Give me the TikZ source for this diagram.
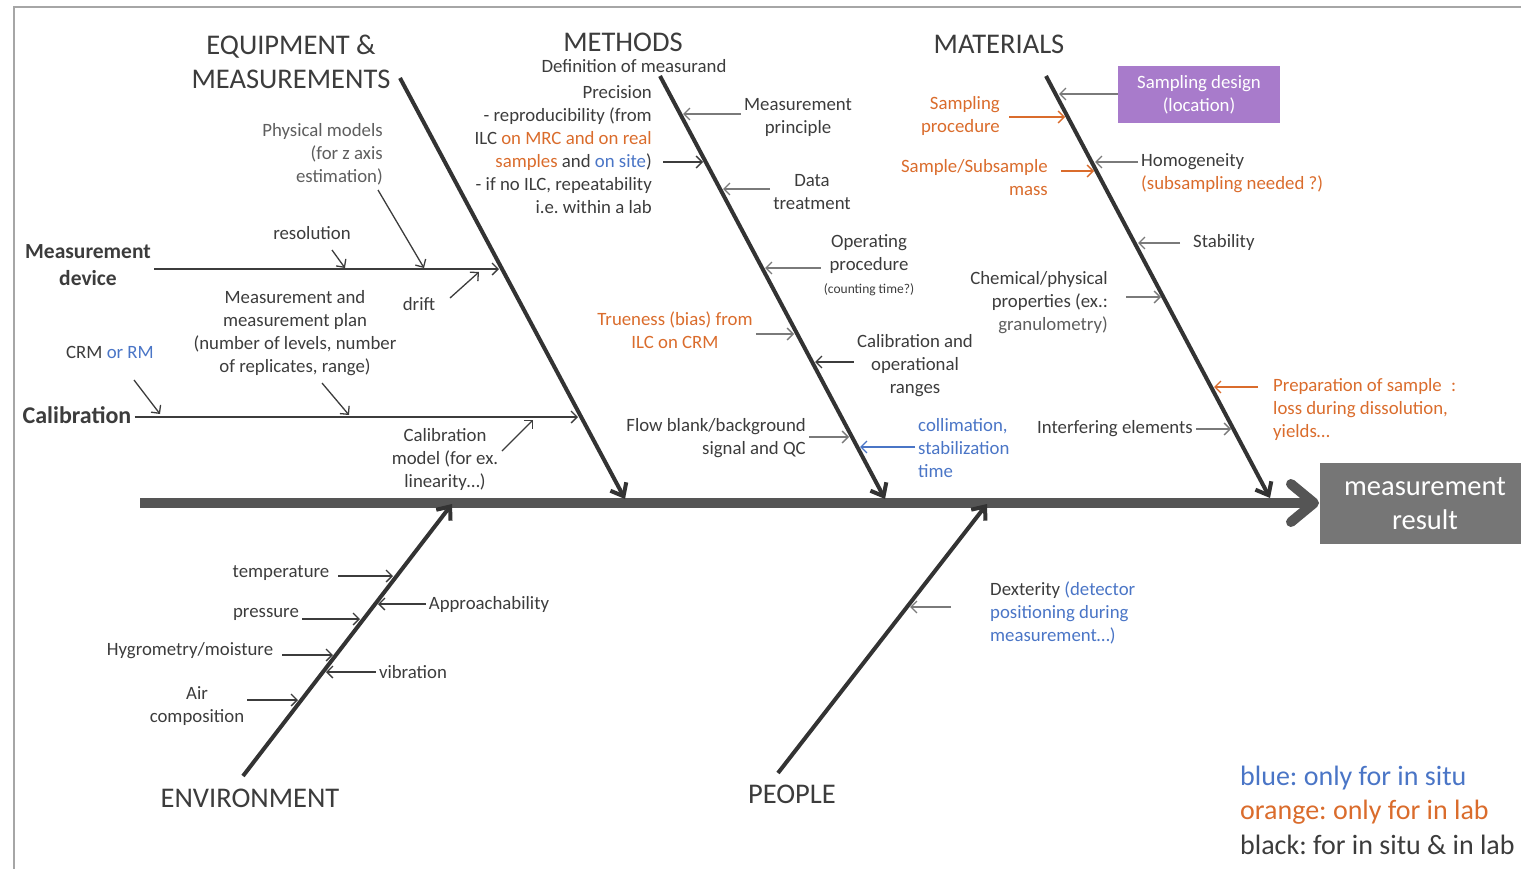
\documentclass[tikz,border=0pt]{standalone}
\usepackage{fontspec}
\setmainfont{Carlito}
\usetikzlibrary{arrows.meta}
\frenchspacing

\definecolor{ink}{HTML}{3C3C3C}
\definecolor{soft}{HTML}{5E5E5E}
\definecolor{bone}{HTML}{333333}
\definecolor{spinecol}{HTML}{555555}
\definecolor{thin}{HTML}{7A7A7A}
\definecolor{labor}{HTML}{DA6C2C}
\definecolor{situ}{HTML}{4A75C6}
\definecolor{plum}{HTML}{A87BCB}
\definecolor{resultcol}{HTML}{767676}
\definecolor{framecol}{HTML}{A6A6A6}

\newcommand{\fsz}[2]{\fontsize{#1}{#2}\selectfont}

\tikzset{
  lbl/.style={text=ink, inner sep=3pt, font=\fsz{18.8}{23}},
  headline/.style={text=ink, inner sep=0pt, font=\fsz{28.5}{34}},
  bonel/.style={draw=bone, line width=4pt, -{Straight Barb[length=11pt,width=18pt]}},
  twig/.style={draw=ink, line width=1.3pt, -{Straight Barb[length=6pt,width=12pt]}},
  twiggrey/.style={draw=thin, line width=1.3pt, -{Straight Barb[length=6pt,width=12pt]}},
  twigor/.style={draw=labor, line width=1.3pt, -{Straight Barb[length=6pt,width=12pt]}},
  twigbl/.style={draw=situ, line width=1.3pt, -{Straight Barb[length=6pt,width=12pt]}},
}

\begin{document}
\begin{tikzpicture}[x=1pt,y=-1pt]
\useasboundingbox (0,0) rectangle (1521,868);

% outer frame
\draw[framecol, line width=1.5pt] (14,875) -- (14,7) -- (1530,7);

% ---------- main spine ----------
\coordinate (spL) at (140,503);
\coordinate (spR) at (1314,503);
\coordinate (hdA) at (1291,484);
\coordinate (hdB) at (1291,522);
\draw[spinecol, line width=10pt] (spL) -- (1306,503);
\draw[spinecol, line width=10pt, line cap=round, line join=round] (hdA) -- (spR) -- (hdB);
\node[fill=resultcol, text=white, inner sep=0pt, minimum width=210pt, minimum height=81pt,
      align=center, font=\fsz{28.5}{34}] (res) at (1425,503.5) {measurement\\result};

% ---------- EQUIPMENT & MEASUREMENTS ----------
\node[headline, align=center] (tEq) at (291,62) {EQUIPMENT \&\\MEASUREMENTS};
\coordinate (eqTop) at (400,78);
\coordinate (eqTip) at (625,499);
\draw[bonel] (eqTop) -- (eqTip);

\node[lbl, font=\bfseries\fsz{21.5}{27}, align=center] (mdev) at (88,265) {Measurement\\device};
\coordinate (mdHit) at (499,269);
\draw[twig] (mdev.east |- mdHit) -- (mdHit);

\node[lbl] (reso) at (312,233) {resolution};
\coordinate (resoA) at (332,250);
\coordinate (resoB) at (345,268);
\draw[twig] (resoA) -- (resoB);

\node[lbl, text=soft, align=right, anchor=east] (phys) at (386,154) {Physical models\\(for z axis\\estimation)};
\coordinate (physA) at (378,190);
\coordinate (physB) at (424,268);
\draw[twig] (physA) -- (physB);

\node[lbl] (drift) at (419,304) {drift};
\coordinate (driftA) at (450,298);
\coordinate (driftB) at (479,272);
\draw[twig] (driftA) -- (driftB);

\node[lbl, font=\bfseries\fsz{24}{29}] (calib) at (77,415) {Calibration};
\coordinate (calHit) at (578,417);
\draw[twig] (calib.east |- calHit) -- (calHit);

\node[lbl] (crm) at (110,352) {CRM \textcolor{situ}{or RM}};
\coordinate (crmA) at (134,380);
\coordinate (crmB) at (160,414);
\draw[twig] (crmA) -- (crmB);

\node[lbl, align=center] (plan) at (295,333) {Measurement and\\measurement plan\\(number of levels, number\\of replicates, range)};
\coordinate (planA) at (322,383);
\coordinate (planB) at (349,415);
\draw[twig] (planA) -- (planB);

\node[lbl, align=center] (calmod) at (445,459) {Calibration\\model (for ex.\\linearity…)};
\coordinate (calmodA) at (502,451);
\coordinate (calmodB) at (533,420);
\draw[twig] (calmodA) -- (calmodB);

% ---------- METHODS ----------
\node[headline] (tMe) at (623,42) {METHODS};
\node[lbl] (defm) at (634,66) {Definition of measurand};
\coordinate (meTop) at (660,76);
\coordinate (meTip) at (885,499);
\draw[bonel] (meTop) -- (meTip);

\node[lbl, align=right, anchor=east] (prec) at (655,150) {Precision\\- reproducibility (from\\ILC \textcolor{labor}{on MRC and on real}\\\textcolor{labor}{samples} and \textcolor{situ}{on site})\\- if no ILC, repeatability\\i.e. within a lab};
\coordinate (precHit) at (703,162);
\draw[twig, shorten <=8pt] (prec.east |- precHit) -- (precHit);

\node[lbl, align=center] (mprin) at (798,117) {Measurement\\principle};
\coordinate (mpHit) at (683,114);
\draw[twiggrey] (mprin.west |- mpHit) -- (mpHit);

\node[lbl, align=center] (datat) at (812,192) {Data\\treatment};
\coordinate (dtHit) at (723,189);
\draw[twiggrey] (datat.west |- dtHit) -- (dtHit);

\node[lbl, align=center] (oper) at (869,265) {Operating\\procedure\\{\fsz{13.5}{18}(counting time?)}};
\coordinate (opHit) at (765,268);
\draw[twiggrey] (oper.west |- opHit) -- (opHit);

\node[lbl, text=labor, align=center] (trueb) at (675,330) {Trueness (bias) from\\ILC on CRM};
\coordinate (trHit) at (794,334);
\draw[twiggrey] (trueb.east |- trHit) -- (trHit);

\node[lbl, align=center] (calop) at (915,366) {Calibration and\\operational\\ranges};
\coordinate (coHit) at (815,362);
\draw[twig] (calop.west |- coHit) -- (coHit);

\node[lbl, align=right, anchor=east] (flow) at (809,438) {Flow blank/background\\signal and QC};
\coordinate (fbHit) at (849,437);
\draw[twiggrey] (flow.east |- fbHit) -- (fbHit);

\node[lbl, text=situ, align=left, anchor=west] (colli) at (915,448) {collimation,\\stabilization\\time};
\coordinate (clHit) at (860,447);
\draw[twigbl] (colli.west |- clHit) -- (clHit);

% ---------- MATERIALS ----------
\node[headline] (tMa) at (999,44) {MATERIALS};
\coordinate (maTop) at (1046,76);
\coordinate (maTip) at (1270,498);
\draw[bonel] (maTop) -- (maTip);

\node[lbl, fill=plum, text=white, inner sep=0pt, minimum width=162pt, minimum height=57pt, align=center] (sdes) at (1199,94.5) {Sampling design\\(location)};
\coordinate (sdHit) at (1059,94);
\draw[twiggrey] (sdes.west |- sdHit) -- (sdHit);

\node[lbl, text=labor, align=right, anchor=east] (sproc) at (1003,116) {Sampling\\procedure};
\coordinate (spHit) at (1065,117);
\draw[twigor, shorten <=6pt] (sproc.east |- spHit) -- (spHit);

\node[lbl, text=labor, align=right, anchor=east] (smass) at (1051,178) {Sample/Subsample\\mass};
\coordinate (smHit) at (1094,171);
\draw[twigor, shorten <=10pt] (smass.east |- smHit) -- (smHit);

\node[lbl, align=left, anchor=west] (homo) at (1138,173) {Homogeneity\\\textcolor{labor}{(subsampling needed ?)}};
\coordinate (hoHit) at (1095,162);
\draw[twiggrey] (homo.west |- hoHit) -- (hoHit);

\node[lbl, anchor=west] (stab) at (1190,242) {Stability};
\coordinate (stHit) at (1138,243);
\draw[twiggrey, shorten <=10pt] (stab.west |- stHit) -- (stHit);

\node[lbl, align=right, anchor=east] (chem) at (1111,303) {Chemical/physical\\properties (ex.:\\\textcolor{soft}{granulometry)}};
\coordinate (chHit) at (1161,297);
\draw[twiggrey, shorten <=15pt] (chem.east |- chHit) -- (chHit);

\node[lbl, text=labor, align=left, anchor=west] (prep) at (1270,409) {Preparation of sample\enspace :\\loss during dissolution,\\yields…};
\coordinate (prHit) at (1214,387);
\draw[twigor, shorten <=12pt] (prep.west |- prHit) -- (prHit);

\node[lbl, anchor=east] (interf) at (1196,429) {Interfering elements};
\coordinate (ieHit) at (1231,429);
\draw[twiggrey] (interf.east |- ieHit) -- (ieHit);

% ---------- ENVIRONMENT ----------
\node[headline] (tEn) at (250,798) {ENVIRONMENT};
\coordinate (enBot) at (243,776);
\coordinate (enTip) at (452,504);
\draw[bonel] (enBot) -- (enTip);

\node[lbl] (temp) at (281,573) {temperature};
\coordinate (tpHit) at (393,576);
\draw[twig, shorten <=6pt] (temp.east |- tpHit) -- (tpHit);

\node[lbl] (press) at (266,614) {pressure};
\coordinate (psHit) at (360,619);
\draw[twig] (press.east |- psHit) -- (psHit);

\node[lbl] (hygro) at (190,651) {Hygrometry/moisture};
\coordinate (hyHit) at (333,655);
\draw[twig, shorten <=6pt] (hygro.east |- hyHit) -- (hyHit);

\node[lbl, align=center] (air) at (197,706) {Air\\composition};
\coordinate (arHit) at (298,700);
\draw[twig] (air.east |- arHit) -- (arHit);

\node[lbl] (appr) at (489,604) {Approachability};
\coordinate (apHit) at (378,604);
\draw[twig] (appr.west |- apHit) -- (apHit);

\node[lbl] (vibr) at (413,672) {vibration};
\coordinate (vbHit) at (326,672);
\draw[twig] (vibr.west |- vbHit) -- (vbHit);

% ---------- PEOPLE ----------
\node[headline] (tPe) at (792,794) {PEOPLE};
\coordinate (peBot) at (778,773);
\coordinate (peTip) at (987,504);
\draw[bonel] (peBot) -- (peTip);

\node[lbl, align=left, anchor=west] (dext) at (987,613) {Dexterity \textcolor{situ}{(detector}\\\textcolor{situ}{positioning during}\\\textcolor{situ}{measurement…)}};
\coordinate (dxHit) at (910,607);
\draw[twiggrey, shorten <=36pt] (dext.west |- dxHit) -- (dxHit);

% ---------- colour key ----------
\node[lbl, inner sep=0pt, font=\fsz{28}{34.5}, align=left, anchor=west] (legend) at (1240,810)
  {\textcolor{situ}{blue: only for in situ}\\\textcolor{labor}{orange: only for in lab}\\black: for in situ \& in lab};
\end{tikzpicture}
\end{document}
